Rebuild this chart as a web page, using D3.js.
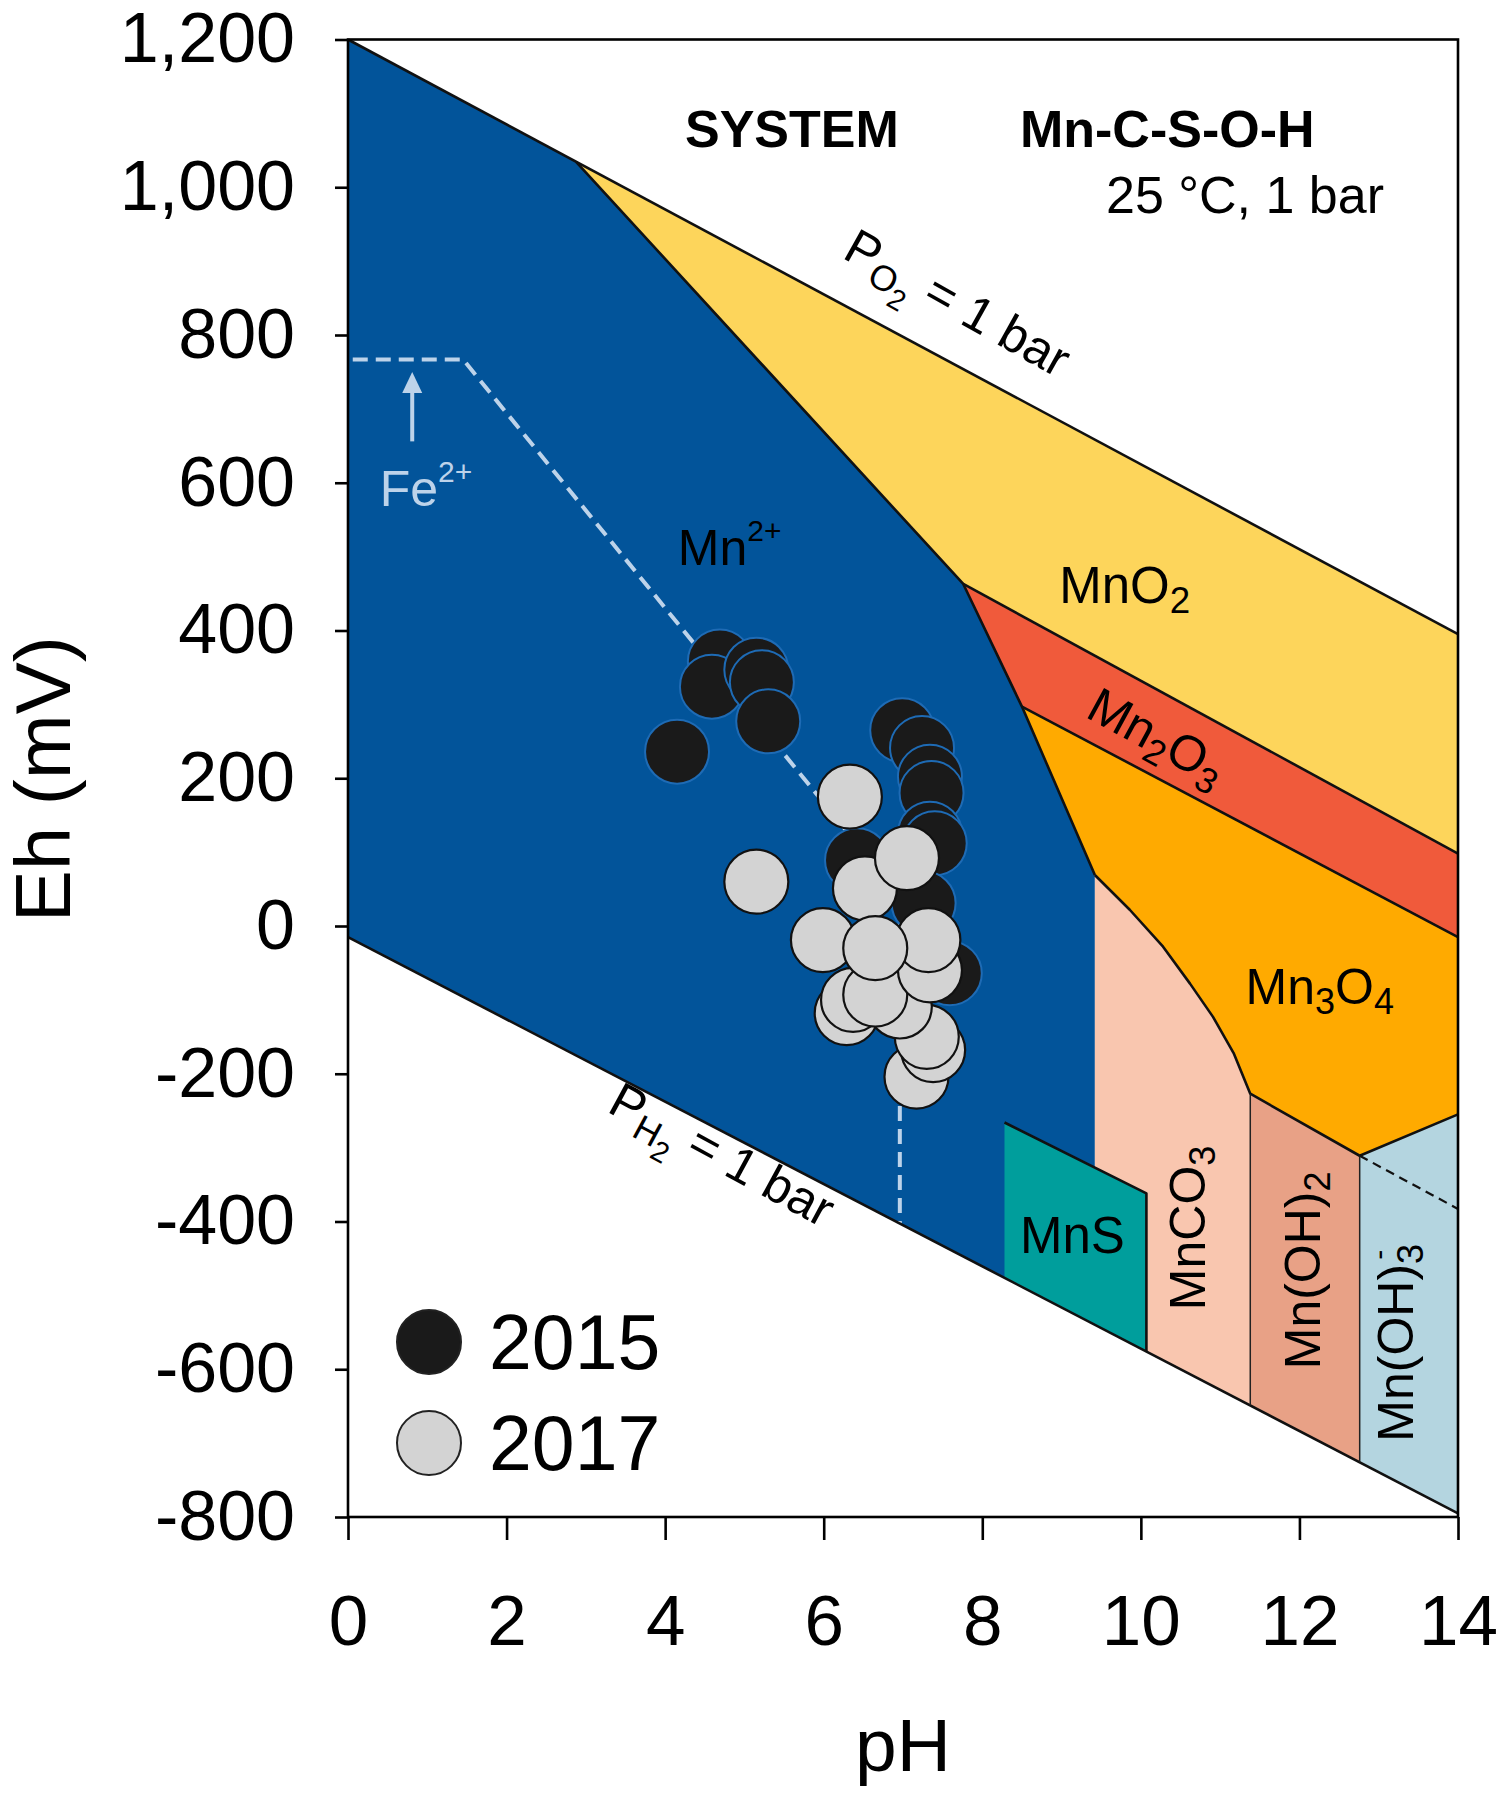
<!DOCTYPE html>
<html><head><meta charset="utf-8">
<script src="https://cdn.jsdelivr.net/npm/d3@7"></script>
<style>
body{margin:0;background:#fff;}
text{font-family:"Liberation Sans",Arial,Helvetica,sans-serif;}
</style>
</head><body>
<svg id="chart" width="1510" height="1800"></svg>
<script>
// ---------------- data ----------------
const phTicks = [0, 2, 4, 6, 8, 10, 12, 14];
const ehTicks = [1200, 1000, 800, 600, 400, 200, 0, -200, -400, -600, -800];
const ehTickLabels = ["1,200", "1,000", "800", "600", "400", "200", "0", "-200", "-400", "-600", "-800"];

const waterO2 = [[0, 1200], [14, 395]];
const waterH2 = [[0, -15], [14, -795]];

// Mn3O4 / MnCO3 curved boundary
const curveCO3 = [[9.42, 69], [9.86, 22], [10.28, -28], [10.62, -78], [10.91, -123], [11.17, -172], [11.38, -227]];

const fieldMn2 = [[0, 1200], [2.88, 1034], [7.76, 463], [8.50, 297], [9.42, 69], [9.42, -540], [0, -15]];
const fieldMnO2 = [[2.88, 1034], [14, 395], [14, 98], [7.76, 463]];
const fieldMn2O3 = [[7.76, 463], [14, 98], [14, -15], [8.50, 297]];
const fieldMn3O4 = [[8.50, 297], [14, -15], [14, -255], [12.76, -311], ...curveCO3.slice().reverse()];
const fieldMnCO3 = [...curveCO3, [11.38, -649], [9.42, -540]];
const fieldMnOH2 = [[11.38, -227], [12.76, -311], [12.76, -726], [11.38, -649]];
const fieldMnOH3 = [[12.76, -311], [14, -255], [14, -795], [12.76, -726]];
const fieldMnS = [[8.28, -266], [10.07, -362], [10.07, -576], [8.28, -476]];

const boundMn2MnO2 = [[2.88, 1034], [7.76, 463], [8.50, 297], [9.42, 69]];
const boundMnO2Mn2O3 = [[7.76, 463], [14, 98]];
const boundMn2O3Mn3O4 = [[8.50, 297], [14, -15]];
const boundMn3O4Bottom = [...curveCO3, [12.76, -311], [14, -255]];
const boundCO3OH2 = [[11.38, -227], [11.38, -649]];
const boundOH2OH3 = [[12.76, -311], [12.76, -726]];
const boundMnS = [[8.28, -266], [10.07, -362], [10.07, -576]];
const boundDashed = [[12.76, -311], [14, -383]];

const feLine = [[0.06, 767], [1.45, 767], [6.96, 40], [6.96, -403]];
const feArrow = [[0.81, 656], [0.81, 750]];

const years = ["2015", "2017"];
const samples2015 = [
  [4.69, 358], [4.59, 324], [5.15, 347], [5.22, 330], [5.30, 277], [4.15, 236],
  [6.99, 265], [7.24, 241], [7.34, 202], [7.36, 180], [7.34, 125], [7.40, 112],
  [6.42, 89], [7.26, 31], [7.59, -64]
];
const samples2017 = [
  [7.17, -204], [7.38, -168], [7.30, -150], [6.29, -118], [6.37, -100],
  [6.96, -109], [6.65, -93], [7.34, -60], [7.32, -19], [5.99, -19],
  [6.52, 51], [7.05, 92], [6.33, 175], [5.15, 60], [6.65, -30]
];

// ---------------- setup ----------------
const svg = d3.select("#chart");
const x = d3.scaleLinear().domain([0, 14]).range([348, 1458]);
const y = d3.scaleLinear().domain([-800, 1200]).range([1517, 39.5]);
const line = d3.line().x(d => x(d[0])).y(d => y(d[1]));

// fields
const fields = [
  [fieldMn2, "#02549A"], [fieldMnO2, "#FDD55B"], [fieldMn2O3, "#F05A3B"],
  [fieldMn3O4, "#FFAA00"], [fieldMnCO3, "#F9C6AF"], [fieldMnOH2, "#E8A186"],
  [fieldMnOH3, "#B4D5E0"], [fieldMnS, "#009E9C"]
];
svg.append("g").selectAll("path").data(fields).join("path")
  .attr("d", d => line(d[0]) + "Z").attr("fill", d => d[1]).attr("stroke", "none");

// Fe2+ dashed line
const feColor = "#BDD3EA";
svg.append("path").attr("d", line(feLine)).attr("fill", "none")
  .attr("stroke", feColor).attr("stroke-width", 4).attr("stroke-dasharray", "15,8");
svg.append("line")
  .attr("x1", x(feArrow[0][0])).attr("y1", y(feArrow[0][1]))
  .attr("x2", x(feArrow[1][0])).attr("y2", y(feArrow[1][1]) + 18)
  .attr("stroke", feColor).attr("stroke-width", 4);
svg.append("path")
  .attr("d", `M${x(feArrow[1][0])},${y(feArrow[1][1])} l-10,21 l20,0 Z`)
  .attr("fill", feColor);

// boundaries
const thick = [waterO2, waterH2, boundMn2MnO2, boundMnO2Mn2O3, boundMn2O3Mn3O4, boundMn3O4Bottom, boundMnS];
svg.append("g").selectAll("path").data(thick).join("path")
  .attr("d", line).attr("fill", "none").attr("stroke", "#111").attr("stroke-width", 2.6)
  .attr("stroke-linejoin", "round");
svg.append("g").selectAll("path").data([boundCO3OH2, boundOH2OH3]).join("path")
  .attr("d", line).attr("fill", "none").attr("stroke", "#222").attr("stroke-width", 1.5);
svg.append("path").attr("d", line(boundDashed)).attr("fill", "none")
  .attr("stroke", "#111").attr("stroke-width", 2.2).attr("stroke-dasharray", "9,6");

// frame
svg.append("rect").attr("x", x(0)).attr("y", y(1200))
  .attr("width", x(14) - x(0)).attr("height", y(-800) - y(1200))
  .attr("fill", "none").attr("stroke", "#000").attr("stroke-width", 2.6);

// axes
const yAxis = d3.axisLeft(y).tickValues(ehTicks).tickFormat((d, i) => ehTickLabels[i])
  .tickSize(13).tickPadding(40);
const gy = svg.append("g").attr("transform", `translate(${x(0)},0)`).call(yAxis);
gy.select(".domain").remove();
gy.selectAll(".tick line").attr("stroke", "#000").attr("stroke-width", 2.6);
gy.selectAll(".tick text").attr("font-size", 70).attr("fill", "#000")
  .attr("font-family", "'Liberation Sans',Arial,sans-serif");

const xAxis = d3.axisBottom(x).tickValues(phTicks).tickSize(23).tickPadding(55);
const gx = svg.append("g").attr("transform", `translate(0,${y(-800)})`).call(xAxis);
gx.select(".domain").remove();
gx.selectAll(".tick line").attr("stroke", "#000").attr("stroke-width", 2.6);
gx.selectAll(".tick text").attr("font-size", 71).attr("fill", "#000")
  .attr("font-family", "'Liberation Sans',Arial,sans-serif");

svg.append("text").attr("transform", `translate(70,${y(200) + 1})rotate(-90)`)
  .attr("text-anchor", "middle").attr("font-size", 78).text("Eh (mV)");
svg.append("text").attr("x", (x(0) + x(14)) / 2).attr("y", 1771)
  .attr("text-anchor", "middle").attr("font-size", 75).text("pH");

// rich text helper
function rich(sel, parts, size) {
  const t = sel.append("text").attr("font-size", size);
  let cur = 0;
  const spec = { n: [0, 1], sub: [0.2, 0.72], sup: [-0.48, 0.6], sub2: [0.4, 0.58] };
  for (const p of parts) {
    const [s, k, dx] = p;
    const sp = spec[k];
    const off = sp[0] * size;
    const ts = t.append("tspan").attr("dy", off - cur).attr("font-size", size * sp[1]).text(s);
    if (dx) ts.attr("dx", dx);
    cur = off;
  }
  return t;
}
function angleOf(seg) {
  const [a, b] = seg;
  return Math.atan2(y(b[1]) - y(a[1]), x(b[0]) - x(a[0])) * 180 / Math.PI;
}

// titles
svg.append("text").attr("x", x(4.25)).attr("y", y(1055)).attr("font-size", 52)
  .attr("font-weight", "bold").text("SYSTEM");
svg.append("text").attr("x", x(8.475)).attr("y", y(1055)).attr("font-size", 52)
  .attr("font-weight", "bold").text("Mn-C-S-O-H");
svg.append("text").attr("x", x(9.56)).attr("y", y(964.5)).attr("font-size", 52)
  .text("25 °C, 1 bar");

// field labels
const lab = svg.append("g").attr("fill", "#000");
rich(lab, [["Mn", "n"], ["2+", "sup"]], 50).attr("x", x(4.16)).attr("y", y(488));
rich(lab, [["MnO", "n"], ["2", "sub"]], 51).attr("x", x(8.97)).attr("y", y(437));
rich(lab, [["Mn", "n"], ["3", "sub"], ["O", "n"], ["4", "sub"]], 50).attr("x", x(11.32)).attr("y", y(-106));
rich(lab, [["MnS", "n"]], 51).attr("x", x(8.475)).attr("y", y(-443));
rich(lab, [["Mn", "n"], ["2", "sub"], ["O", "n"], ["3", "sub"]], 50)
  .attr("text-anchor", "middle")
  .attr("transform", `translate(${x(10.2)},${y(255)})rotate(${angleOf(boundMnO2Mn2O3)})translate(0,16)`);
rich(lab, [["MnCO", "n"], ["3", "sub"]], 50)
  .attr("transform", `translate(${x(10.81)},${y(-520)})rotate(-90)`);
rich(lab, [["Mn(OH)", "n"], ["2", "sub"]], 50)
  .attr("transform", `translate(${x(12.26)},${y(-600)})rotate(-90)`);
rich(lab, [["Mn(OH)", "n"], ["3", "sub"], ["-", "sup", -16]], 50)
  .attr("transform", `translate(${x(13.43)},${y(-698)})rotate(-90)`);

// water line labels
rich(lab, [["P", "n"], ["O", "sub"], ["2", "sub2"], [" = 1 bar", "n"]], 50)
  .attr("text-anchor", "middle")
  .attr("transform", `translate(${x(7.64)},${y(834)})rotate(${angleOf(waterO2) + 1})translate(0,9)`);
rich(lab, [["P", "n"], ["H", "sub"], ["2", "sub2"], [" = 1 bar", "n"]], 50)
  .attr("text-anchor", "middle")
  .attr("transform", `translate(${x(4.67)},${y(-319)})rotate(${angleOf(waterH2) + 1})translate(0,9)`);

// Fe2+ label
rich(svg, [["Fe", "n"], ["2+", "sup"]], 50).attr("fill", feColor)
  .attr("x", x(0.40)).attr("y", y(568.5));

// samples
const r = 32;
svg.append("g").selectAll("circle").data(samples2015).join("circle")
  .attr("cx", d => x(d[0])).attr("cy", d => y(d[1])).attr("r", r)
  .attr("fill", "#1A1A1A").attr("stroke", "#1E6BB5").attr("stroke-width", 2);
svg.append("g").selectAll("circle").data(samples2017).join("circle")
  .attr("cx", d => x(d[0])).attr("cy", d => y(d[1])).attr("r", r)
  .attr("fill", "#D3D3D3").attr("stroke", "#111").attr("stroke-width", 2.2);

// legend
const legend = svg.append("g");
const legFill = ["#1A1A1A", "#D3D3D3"];
years.forEach((yr, i) => {
  const cy = 1342 + i * 101;
  legend.append("circle").attr("cx", 429).attr("cy", cy).attr("r", r)
    .attr("fill", legFill[i]).attr("stroke", "#222").attr("stroke-width", 2);
  legend.append("text").attr("x", 489).attr("y", cy + 27).attr("font-size", 77).text(yr);
});
</script>
</body></html>
